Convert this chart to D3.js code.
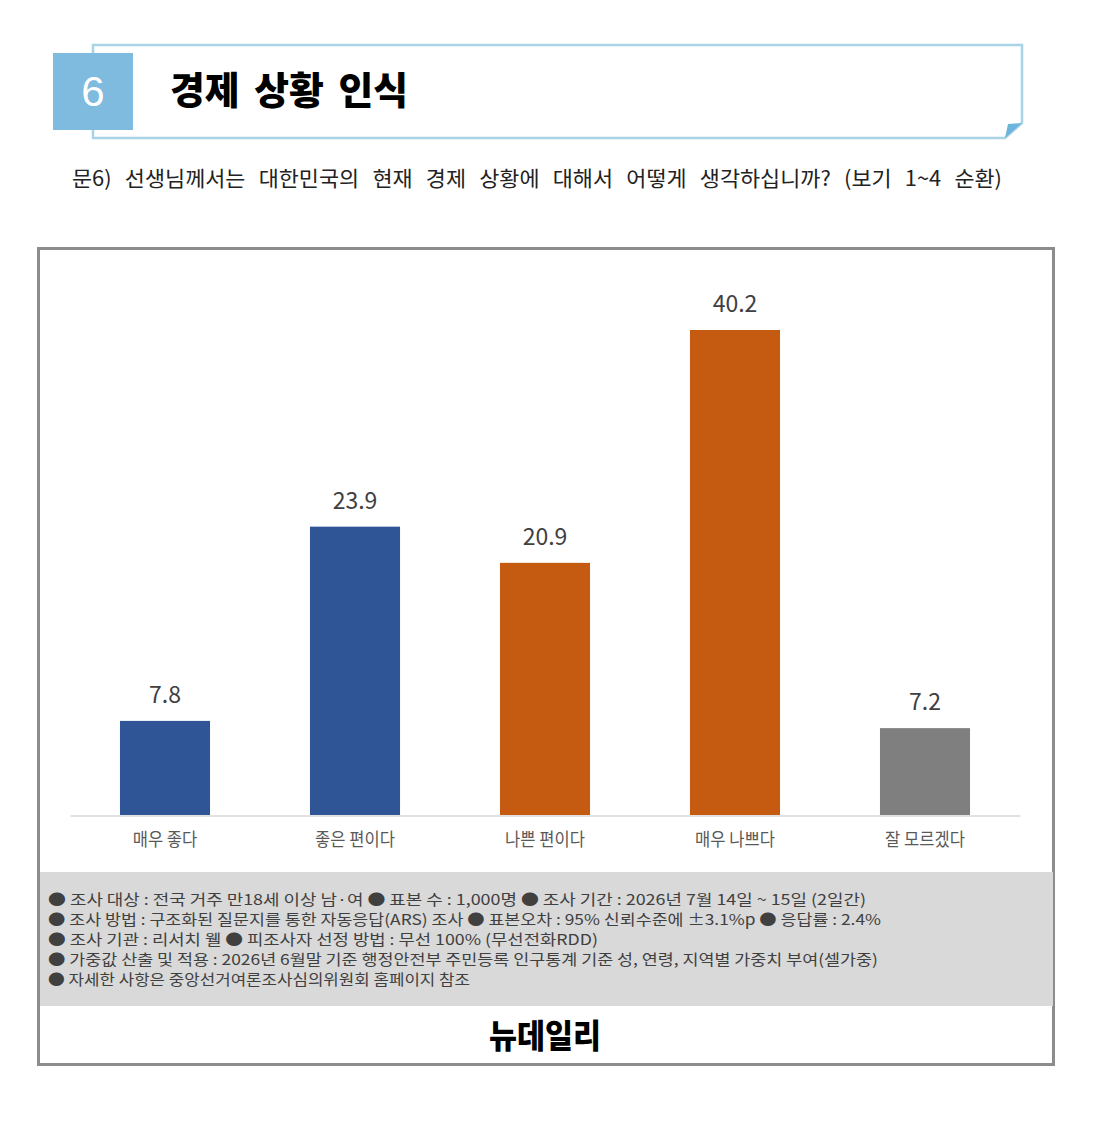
<!DOCTYPE html>
<html>
<head>
<meta charset="utf-8">
<script src="https://cdn.jsdelivr.net/npm/d3@7"></script>
<style>
  body { margin: 0; background: #fff; }
  svg { display: block; font-family: "Noto Sans CJK KR", "Noto Sans", sans-serif; }
</style>
</head>
<body>
<svg width="1107" height="1123"></svg>
<script>
// data
const categories = ['매우 좋다', '좋은 편이다', '나쁜 편이다', '매우 나쁘다', '잘 모르겠다'];
const values = [7.8, 23.9, 20.9, 40.2, 7.2];
const barColors = ['#2f5597', '#2f5597', '#c55a11', '#c55a11', '#7f7f7f'];
const notes = [
  '● 조사 대상 : 전국 거주 만18세 이상 남·여   ● 표본 수 : 1,000명 ● 조사 기간 : 2026년 7월 14일 ~ 15일 (2일간)',
  '● 조사 방법 : 구조화된 질문지를 통한 자동응답(ARS) 조사 ● 표본오차 : 95% 신뢰수준에 ±3.1%p   ● 응답률 : 2.4%',
  '● 조사 기관 : 리서치 웰   ● 피조사자 선정 방법 : 무선 100% (무선전화RDD)',
  '● 가중값 산출 및 적용 : 2026년 6월말 기준 행정안전부 주민등록 인구통계 기준 성, 연령, 지역별 가중치 부여(셀가중)',
  '● 자세한 사항은 중앙선거여론조사심의위원회 홈페이지 참조'
];
const noteWidths = [818, 833, 550, 830, 422];

const svg = d3.select('svg');

// ---- header ----
const head = svg.append('g');
head.append('path') // frame with folded corner
    .attr('d', 'M93,45 L1022,45 L1022,123 L1005,138 L93,138 Z')
    .attr('fill', '#fff')
    .attr('stroke', '#a9d3e6')
    .attr('stroke-width', 2.5);
head.append('path')
    .attr('d', 'M1005,138 L1008,124 L1022,123 Z')
    .attr('fill', '#6cb4dc');
head.append('rect')
    .attr('x', 53).attr('y', 53).attr('width', 80).attr('height', 77)
    .attr('fill', '#7fbadf');
head.append('text')
    .attr('x', 93).attr('y', 106)
    .attr('text-anchor', 'middle')
    .attr('fill', '#fff')
    .style('font-family', '"Liberation Sans Narrow", "Liberation Sans", sans-serif')
    .style('font-size', '42px')
    .text('6');
head.append('text')
    .attr('x', 170).attr('y', 104)
    .attr('fill', '#000')
    .style('font-size', '38px')
    .style('font-weight', 900)
    .style('word-spacing', '6px')
    .attr('textLength', 238)
    .attr('lengthAdjust', 'spacingAndGlyphs')
    .text('경제 상황 인식');

svg.append('text')
    .attr('x', 72).attr('y', 186)
    .attr('fill', '#222')
    .style('font-size', '21px')
    .style('word-spacing', '8px')
    .attr('textLength', 930)
    .attr('lengthAdjust', 'spacingAndGlyphs')
    .text('문6)  선생님께서는 대한민국의 현재 경제 상황에 대해서 어떻게 생각하십니까? (보기 1~4 순환)');

// ---- chart box ----
svg.append('rect')
    .attr('x', 38.5).attr('y', 248.5).attr('width', 1015).attr('height', 816)
    .attr('fill', '#fff')
    .attr('stroke', '#8c8c8c')
    .attr('stroke-width', 3);

const x = d3.scaleBand()
    .domain(categories)
    .range([70, 1020])
    .paddingInner(0.526)
    .paddingOuter(0.263);

const y = d3.scaleLinear()
    .domain([0, 40.2])
    .range([815, 330]);

const g = svg.append('g');

g.selectAll('rect.bar')
    .data(values)
    .enter().append('rect')
    .attr('class', 'bar')
    .attr('x', (d, i) => x(categories[i]))
    .attr('y', d => y(d))
    .attr('width', x.bandwidth())
    .attr('height', d => y(0) - y(d))
    .attr('fill', (d, i) => barColors[i]);

g.selectAll('text.val')
    .data(values)
    .enter().append('text')
    .attr('class', 'val')
    .attr('x', (d, i) => x(categories[i]) + x.bandwidth() / 2)
    .attr('y', d => y(d) - 18)
    .attr('text-anchor', 'middle')
    .attr('fill', '#404040')
    .style('font-size', '23px')
    .text(d => d.toFixed(1));

// x axis
const xAxis = g.append('g')
    .attr('transform', 'translate(0,815.5)')
    .call(d3.axisBottom(x).tickSize(0).tickPadding(18));
xAxis.select('.domain').attr('stroke', '#d9d9d9').attr('stroke-width', 1.5);
xAxis.selectAll('text')
    .attr('fill', '#595959')
    .style('font-size', '18px')
    .style('font-family', '"Noto Sans CJK KR", sans-serif')
    .attr('transform', 'scale(0.92,1)');

// ---- footnotes ----
svg.append('rect')
    .attr('x', 40).attr('y', 872).attr('width', 1013).attr('height', 134)
    .attr('fill', '#d9d9d9');

svg.append('g').selectAll('text')
    .data(notes)
    .enter().append('text')
    .attr('x', 48)
    .attr('y', (d, i) => 905 + i * 20)
    .attr('fill', '#404040')
    .style('font-size', '15px')
    .attr('textLength', (d, i) => noteWidths[i])
    .attr('lengthAdjust', 'spacingAndGlyphs')
    .text(d => d);

svg.append('text')
    .attr('x', 545).attr('y', 1048)
    .attr('text-anchor', 'middle')
    .attr('fill', '#000')
    .style('font-size', '33px')
    .style('font-weight', 900)
    .attr('textLength', 112)
    .attr('lengthAdjust', 'spacingAndGlyphs')
    .text('뉴데일리');
</script>
</body>
</html>
